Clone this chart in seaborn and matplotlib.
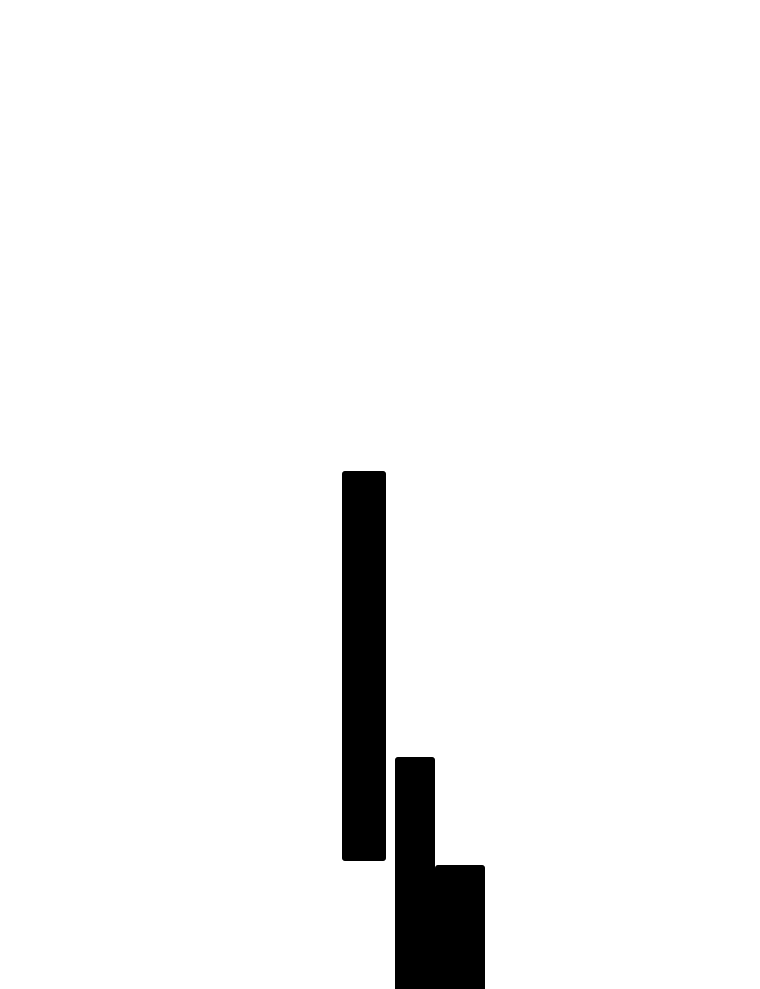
import matplotlib
matplotlib.use("Agg")
import matplotlib.pyplot as plt
from matplotlib.patches import FancyBboxPatch
import seaborn as sns

# Floating bars: left edge, width, low, high
bar_left = [34.2, 39.5, 43.5]
bar_width = [4.4, 4.0, 5.0]
bar_low = [12.8, -5.0, -5.0]
bar_high = [51.8, 23.2, 12.4]

sns.set_theme(style="white")

fig = plt.figure(figsize=(7.6, 9.89), dpi=100)
ax = fig.add_axes([0, 0, 1, 1])

heights = [h - l for h, l in zip(bar_high, bar_low)]
bars = ax.bar(bar_left, heights, width=bar_width, bottom=bar_low, align="edge",
              color="black", linewidth=0)

# swap the plain rectangles for slightly rounded ones
for b in bars:
    x, y = b.get_xy()
    rounded = FancyBboxPatch((x, y), b.get_width(), b.get_height(),
                             boxstyle="round,pad=0,rounding_size=0.3",
                             facecolor="black", edgecolor="none")
    ax.add_patch(rounded)
    b.set_visible(False)

ax.set_xlim(0, 76)
ax.set_ylim(0, 98.9)
ax.axis("off")

fig.savefig("out.png", dpi=100, facecolor="white")
